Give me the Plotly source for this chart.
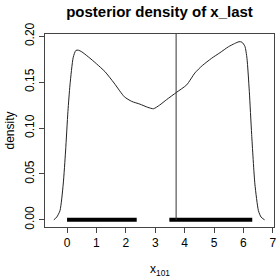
import plotly.graph_objects as go

# density curve
dens_x = [-0.45, -0.35, -0.24, -0.13, -0.05, 0.03, 0.10, 0.21, 0.30, 0.38, 0.50, 0.72,
          1.00, 1.29, 1.60, 1.95, 2.20, 2.48, 2.75, 2.94, 3.15, 3.39, 3.73, 4.07, 4.35,
          4.60, 4.92, 5.20, 5.49, 5.70, 5.85, 5.95, 6.05, 6.12, 6.20, 6.28, 6.39, 6.51,
          6.60, 6.72]
dens_y = [0.000, 0.003, 0.010, 0.039, 0.075, 0.118, 0.147, 0.177, 0.1845, 0.1848, 0.183,
          0.1776, 0.170, 0.1614, 0.149, 0.134, 0.129, 0.126, 0.1225, 0.121, 0.125, 0.131,
          0.139, 0.147, 0.160, 0.168, 0.176, 0.182, 0.1885, 0.192, 0.194, 0.1935, 0.189,
          0.176, 0.140, 0.093, 0.039, 0.010, 0.003, 0.000]

# HPD intervals (thick bars at zero)
hpd_lo = [0.00, 3.48]
hpd_hi = [2.37, 6.30]

# observed / reference value
x_true = 3.71

x_ticks = [0, 1, 2, 3, 4, 5, 6, 7]
y_ticks = [0.00, 0.05, 0.10, 0.15, 0.20]
y_tick_labels = ["0.00", "0.05", "0.10", "0.15", "0.20"]

x_range = [-0.75, 7.04]
y_range = [-0.0078, 0.2024]

FONT = "Liberation Sans, Arial, Helvetica, sans-serif"

fig = go.Figure()

fig.add_trace(go.Scatter(x=dens_x, y=dens_y, mode="lines",
                         line=dict(color="#222222", width=1, shape="spline", smoothing=0.6),
                         hoverinfo="skip", showlegend=False))

for lo, hi in zip(hpd_lo, hpd_hi):
    fig.add_trace(go.Scatter(x=[lo, hi], y=[0, 0], mode="lines",
                             line=dict(color="black", width=4),
                             hoverinfo="skip", showlegend=False))

fig.add_trace(go.Scatter(x=[x_true, x_true], y=[0, y_range[1]], mode="lines",
                         line=dict(color="#333333", width=1),
                         hoverinfo="skip", showlegend=False))

axis_common = dict(showgrid=False, zeroline=False, showline=True, mirror=True,
                   linecolor="#444444", linewidth=1, ticks="outside", ticklen=5,
                   tickcolor="#444444", tickwidth=1,
                   tickfont=dict(family=FONT, size=12, color="black"))

fig.update_layout(
    width=277, height=277,
    margin=dict(l=45, r=3, t=34, b=50, autoexpand=False),
    paper_bgcolor="white", plot_bgcolor="white",
    title=dict(text="<b>posterior density of x_last</b>", x=0.5, xref="paper",
               y=1 - 12 / 277, yref="container", yanchor="middle", xanchor="center",
               font=dict(family=FONT, size=15, color="black")),
    xaxis=dict(range=x_range, tickvals=x_ticks, **axis_common),
    yaxis=dict(range=y_range, tickvals=y_ticks, ticktext=y_tick_labels,
               tickangle=-90, **axis_common),
    annotations=[
        dict(text="x<sub>101</sub>", xref="paper", yref="paper", x=0.5, y=0,
             xanchor="center", yanchor="middle", yshift=-43, showarrow=False,
             font=dict(family=FONT, size=12, color="black")),
        dict(text="density", xref="paper", yref="paper", x=0, y=0.5,
             xanchor="center", yanchor="middle", xshift=-36, textangle=-90,
             showarrow=False, font=dict(family=FONT, size=12, color="black")),
    ],
)

fig.write_html("out.html", config={"displayModeBar": False},
               post_script="document.body.style.margin='0';")
